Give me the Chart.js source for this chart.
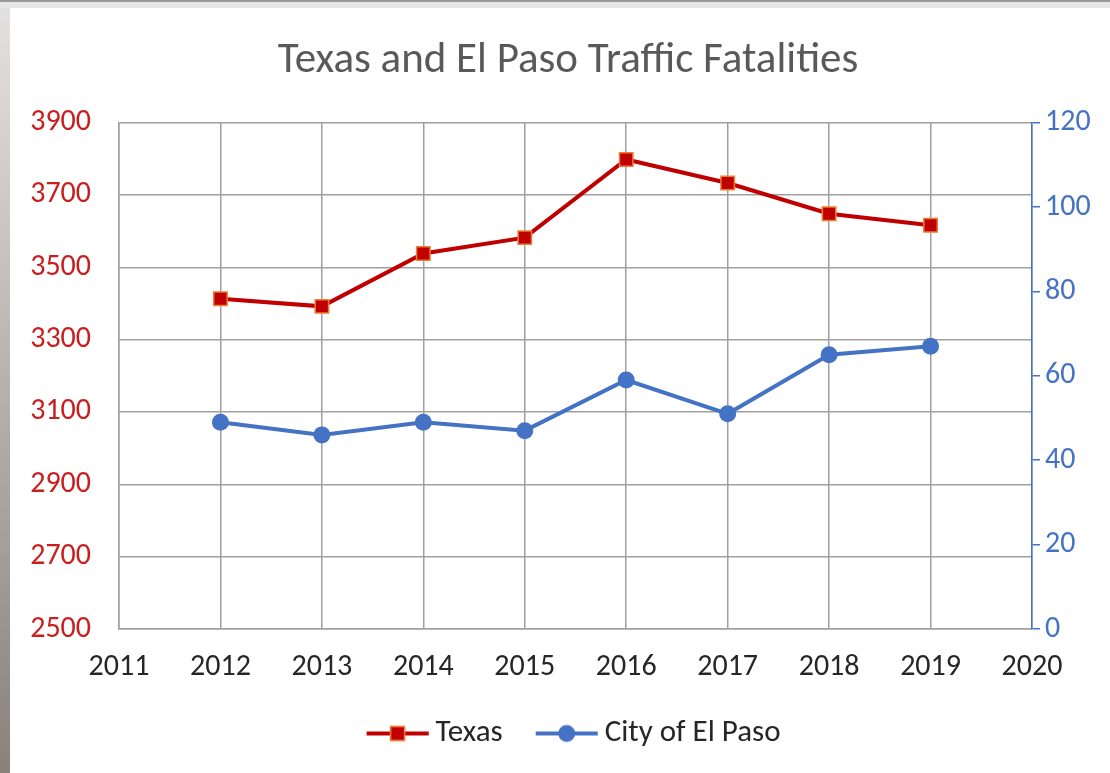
<!DOCTYPE html>
<html>
<head>
<meta charset="utf-8">
<script src="https://cdn.jsdelivr.net/npm/chart.js@4"></script>
<style>
  html, body { margin:0; padding:0; }
  body {
    width:1110px; height:773px; overflow:hidden; position:relative;
    background: linear-gradient(to bottom, #e4e2e0, #8a817b);
  }
  #topbar { position:absolute; left:0; top:0; width:1110px; height:8px;
    background:#e6e6e6; border-top:2px solid #9a9a9a; box-sizing:border-box; }
  #box { position:absolute; left:10px; top:8px; width:1100px; height:765px; background:#fff; }
</style>
</head>
<body>
<div id="topbar"></div>
<div id="box"><canvas id="chart" width="1100" height="765"></canvas></div>
<script>
/* data */
const years = [2012, 2013, 2014, 2015, 2016, 2017, 2018, 2019];
const texas = [3413, 3392, 3538, 3582, 3798, 3733, 3648, 3616];
const elPaso = [49, 46, 49, 47, 59, 51, 65, 67];
const leftTicks = [2500, 2700, 2900, 3100, 3300, 3500, 3700, 3900];
const rightTicks = [0, 20, 40, 60, 80, 100, 120];
const xTicks = [2011, 2012, 2013, 2014, 2015, 2016, 2017, 2018, 2019, 2020];

const RED = "#c00000", ORANGE = "#ed7d31", BLUE = "#4472c4";
const FONT = "Carlito, Lato, sans-serif";

/* legend swatch: line with marker, drawn in the right part of the image
   so it sits close to the label text */
function swatch(color, shape){
    let c = document.createElement("canvas");
    c.width = 82; c.height = 20;
    let g = c.getContext("2d");
    let a = 19.75, m = a + 31;
    g.strokeStyle = color; g.lineWidth = 4;
    g.beginPath(); g.moveTo(a,10); g.lineTo(a+62,10); g.stroke();
    if(shape === "rect"){
        g.fillStyle = RED; g.fillRect(m-7,3,14,14);
        g.strokeStyle = ORANGE; g.lineWidth = 1.5; g.strokeRect(m-7,3,14,14);
    } else {
        g.fillStyle = BLUE; g.beginPath(); g.arc(m,10,8.5,0,Math.PI*2); g.fill();
    }
    return c;
}
const swatches = [swatch(RED,"rect"), swatch(BLUE,"circle")];

new Chart(document.getElementById("chart"), {
    type: "line",
    data: {
        datasets: [{
            label: "Texas",
            data: years.map((y,i)=>({x:y, y:texas[i]})),
            yAxisID: "yL",
            borderColor: RED, borderWidth: 4,
            pointStyle: "rect", pointRadius: 9.5,
            pointBackgroundColor: RED, pointBorderColor: ORANGE, pointBorderWidth: 1.5
        }, {
            label: "City of El Paso",
            data: years.map((y,i)=>({x:y, y:elPaso[i]})),
            yAxisID: "yR",
            borderColor: BLUE, borderWidth: 4,
            pointStyle: "circle", pointRadius: 8.5,
            pointBackgroundColor: BLUE, pointBorderColor: BLUE, pointBorderWidth: 0
        }]
    },
    options: {
        responsive: false,
        animation: false,
        layout: { padding: { left: 16, right: 0, top: 0, bottom: 14 } },
        plugins: {
            tooltip: { enabled: false },
            title: {
                display: true,
                text: "Texas and El Paso Traffic Fatalities",
                color: "#595959",
                font: { family: FONT, size: 43, weight: "normal" },
                padding: { top: 27, bottom: 36 }
            },
            legend: {
                position: "bottom",
                labels: {
                    usePointStyle: true,
                    pointStyleWidth: 64.5,
                    color: "#262626",
                    font: { family: FONT, size: 31 },
                    padding: 22,
                    generateLabels: chart => chart.data.datasets.map((d,i)=>({
                        text: d.label, datasetIndex: i,
                        pointStyle: swatches[i], fontColor: "#262626",
                        fillStyle: "rgba(0,0,0,0)", strokeStyle: "rgba(0,0,0,0)", lineWidth: 0
                    }))
                }
            }
        },
        scales: {
            x: {
                type: "linear", min: 2011, max: 2020,
                afterBuildTicks: s => { s.ticks = xTicks.map(v=>({value:v})); },
                afterFit: s => { s.height -= 9; },
                ticks: { color: "#262626", font: { family: FONT, size: 30 }, padding: 20, callback: v => String(v) },
                grid: { color: "#a0a0a0", lineWidth: 1.5, drawTicks: false },
                border: { color: "#a0a0a0", width: 1.5 }
            },
            yL: {
                position: "left", min: 2500, max: 3900,
                afterBuildTicks: s => { s.ticks = leftTicks.map(v=>({value:v})); },
                afterFit: s => { s.width = 93; },
                ticks: { color: "#c81e1e", font: { family: FONT, size: 30 }, padding: 28, callback: v => String(v) },
                grid: { color: "#a0a0a0", lineWidth: 1.5, drawTicks: false },
                border: { color: "#a0a0a0", width: 1.5 }
            },
            yR: {
                position: "right", min: 0, max: 120,
                afterBuildTicks: s => { s.ticks = rightTicks.map(v=>({value:v})); },
                afterFit: s => { s.width = 78; },
                ticks: { color: BLUE, font: { family: FONT, size: 30 }, padding: 5, callback: v => String(v) },
                grid: { drawOnChartArea: false, color: BLUE, lineWidth: 1.5, tickLength: 8 },
                border: { color: BLUE, width: 1.5 }
            }
        }
    }
});
</script>
</body>
</html>
